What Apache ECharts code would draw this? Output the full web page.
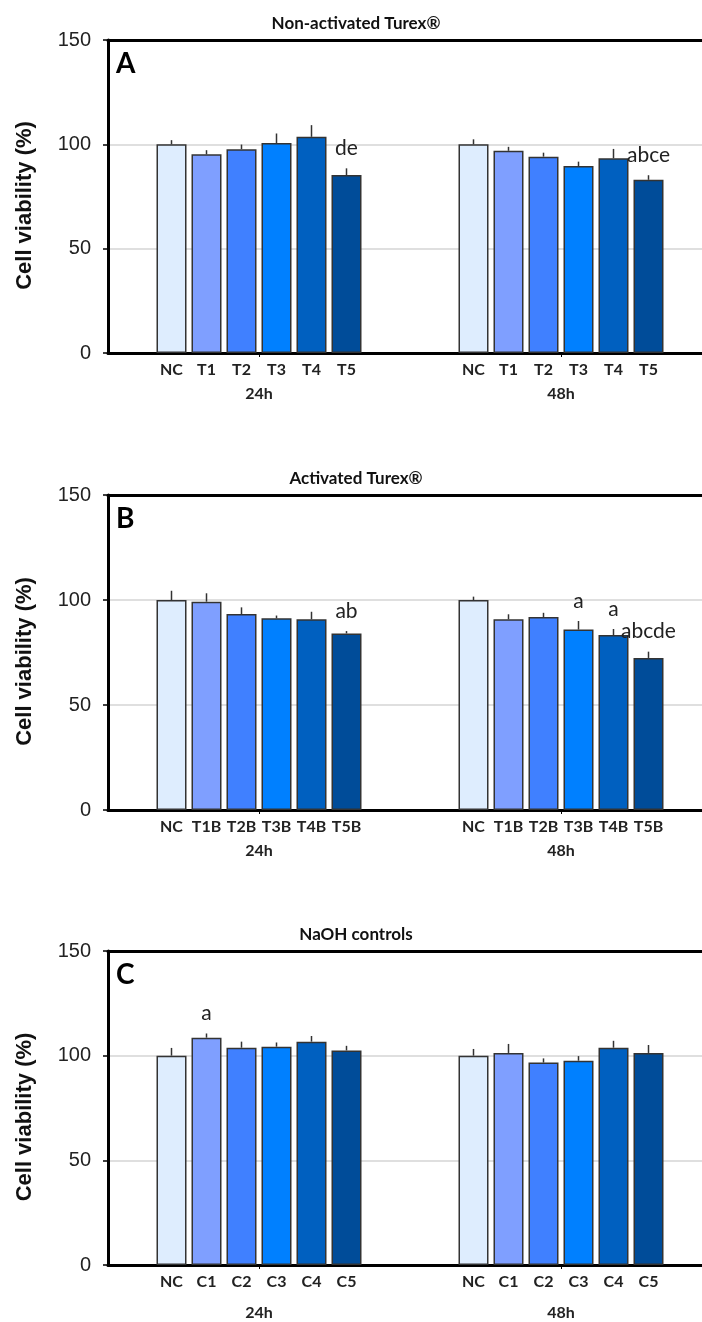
<!DOCTYPE html>
<html>
<head>
<meta charset="utf-8">
<title>Cell viability</title>
<script src="https://cdn.jsdelivr.net/npm/echarts@6/dist/echarts.min.js"></script>
<style>
  html, body { margin: 0; padding: 0; background: #fff; }
  #chart { width: 702px; height: 1322px; }
</style>
</head>
<body>
<div id="chart"></div>
<script>
// time points (x categories) and bar groups
var timePoints = ['24h', '48h'];
var groupsA = ['NC', 'T1', 'T2', 'T3', 'T4', 'T5'];
var groupsB = ['NC', 'T1B', 'T2B', 'T3B', 'T4B', 'T5B'];
var groupsC = ['NC', 'C1', 'C2', 'C3', 'C4', 'C5'];
var yTicks = [0, 50, 100, 150];

// A - non-activated Turex
var valA24 = [100, 95.2, 97.7, 100.6, 103.6, 85.3];
var errA24 = [2.0, 2.0, 2.2, 4.6, 5.6, 3.2];
var valA48 = [100, 96.9, 94.1, 89.6, 93.3, 83.0];
var errA48 = [2.4, 1.9, 1.9, 2.1, 4.5, 2.2];
var sigA24 = ['', '', '', '', '', 'de'];
var sigA48 = ['', '', '', '', '', 'abce'];

// B - activated Turex
var valB24 = [100, 99.2, 93.3, 91.3, 90.8, 84.1];
var errB24 = [4.4, 4.0, 3.2, 1.3, 3.6, 1.1];
var valB48 = [100, 90.8, 91.9, 85.9, 83.3, 72.4];
var errB48 = [1.6, 2.4, 2.0, 4.1, 2.9, 3.0];
var sigB24 = ['', '', '', '', '', 'ab'];
var sigB48 = ['', '', '', 'a', 'a', 'abcde'];

// C - NaOH controls
var valC24 = [100, 108.6, 103.8, 104.3, 106.7, 102.5];
var errC24 = [3.7, 2.0, 2.9, 2.0, 2.7, 2.2];
var valC48 = [100, 101.3, 96.7, 97.6, 103.8, 101.3];
var errC48 = [3.2, 4.3, 2.0, 2.2, 3.3, 3.8];
var sigC24 = ['', 'a', '', '', '', ''];
var sigC48 = ['', '', '', '', '', ''];

var barColors = ['#deedfe', '#7f9fff', '#4080ff', '#0080ff', '#0060c0', '#004c99'];

var panels = [
  { title: 'Non-activated Turex®', letter: 'A', top: 40, height: 313, timeGap: 33, groups: groupsA,
    vals: [valA24, valA48], errs: [errA24, errA48], sigs: [sigA24, sigA48] },
  { title: 'Activated Turex®', letter: 'B', top: 495, height: 315, timeGap: 33, groups: groupsB,
    vals: [valB24, valB48], errs: [errB24, errB48], sigs: [sigB24, sigB48] },
  { title: 'NaOH controls', letter: 'C', top: 951, height: 314, timeGap: 40, groups: groupsC,
    vals: [valC24, valC48], errs: [errC24, errC48], sigs: [sigC24, sigC48] }
];

var BAR_W = 30, BAR_GAP = 5;
var STEP = BAR_W + BAR_GAP;
var catFont = 'Lato';

var grids = [], xAxes = [], yAxes = [], series = [], graphics = [];

panels.forEach(function (p, k) {
  grids.push({ left: 108, width: 604, top: p.top, height: p.height,
               containLabel: false, outerBoundsMode: 'none' });

  // bottom category axis
  xAxes.push({
    gridIndex: k, type: 'category', data: timePoints, position: 'bottom',
    axisLine: { show: true, lineStyle: { color: '#000', width: 3 } },
    axisTick: { show: true, alignWithLabel: true, length: 4, lineStyle: { color: '#000', width: 1 } },
    axisLabel: { margin: p.timeGap, fontFamily: catFont, fontWeight: 'bold', fontSize: 16, color: '#222' },
    splitLine: { show: false }
  });
  // top frame line
  xAxes.push({
    gridIndex: k, type: 'category', data: timePoints, position: 'top',
    axisLine: { show: true, lineStyle: { color: '#000', width: 3 } },
    axisTick: { show: false }, axisLabel: { show: false }, splitLine: { show: false }
  });

  yAxes.push({
    gridIndex: k, type: 'value', min: yTicks[0], max: yTicks[yTicks.length - 1], interval: 50,
    axisLine: { show: true, lineStyle: { color: '#000', width: 3 } },
    axisTick: { show: true, length: 5, lineStyle: { color: '#000', width: 1.5 } },
    axisLabel: { margin: 17, fontFamily: 'Liberation Sans', fontSize: 20, color: '#222' },
    splitLine: { show: true, lineStyle: { color: '#d4d4d4', width: 1.5 } }
  });

  p.groups.forEach(function (g, s) {
    series.push({
      type: 'bar', name: g, xAxisIndex: k * 2, yAxisIndex: k,
      data: [p.vals[0][s], p.vals[1][s]],
      barWidth: BAR_W, barGap: (BAR_GAP / BAR_W * 100) + '%',
      itemStyle: { color: barColors[s], borderColor: '#333', borderWidth: 1.5 },
      label: {
        show: true, position: 'bottom', distance: 9, formatter: g,
        fontFamily: catFont, fontWeight: 'bold', fontSize: 16, color: '#222'
      },
      z: 2
    });
  });

  // error bars and significance letters
  var errData = [], errSig = [];
  for (var c = 0; c < 2; c++) {
    for (var s = 0; s < 6; s++) {
      errData.push([c, s, p.vals[c][s], p.errs[c][s]]);
      errSig.push(p.sigs[c][s]);
    }
  }
  series.push({
    type: 'custom', xAxisIndex: k * 2, yAxisIndex: k, z: 3,
    encode: { x: 0, y: 2 },
    data: errData,
    renderItem: function (params, api) {
      var c = api.value(0), s = api.value(1), v = api.value(2), e = api.value(3);
      var base = api.coord([c, v]);
      var hi = api.coord([c, v + e]);
      var x = base[0] + (s - 2.5) * STEP;
      var kids = [{
        type: 'line', shape: { x1: x, y1: base[1], x2: x, y2: hi[1] },
        style: { stroke: '#333', lineWidth: 1.5 }
      }];
      var t = errSig[params.dataIndex];
      if (t) {
        kids.push({
          type: 'text', x: x, y: hi[1] - 20,
          style: { text: t, textAlign: 'center', textVerticalAlign: 'middle',
                   font: '21px Lato', fill: '#222' }
        });
      }
      return { type: 'group', children: kids };
    }
  });

  graphics.push({
    type: 'text', x: 356, y: p.top - 16,
    style: { text: p.title, textAlign: 'center', textVerticalAlign: 'middle',
             font: 'bold 17px Lato', fill: '#111' }
  });
  graphics.push({
    type: 'text', x: 116, y: p.top + 24,
    style: { text: p.letter, textAlign: 'left', textVerticalAlign: 'middle',
             font: 'bold 28px Lato', fill: '#000' }
  });
  // y axis title
  graphics.push({
    type: 'text', x: 25, y: p.top + p.height / 2 + 9, rotation: Math.PI / 2,
    style: { text: 'Cell viability (%)', textAlign: 'center', textVerticalAlign: 'middle',
             font: 'bold 22px "Liberation Sans"', fill: '#111' }
  });
});

var chart = echarts.init(document.getElementById('chart'));
chart.setOption({
  animation: false,
  backgroundColor: '#fff',
  grid: grids,
  xAxis: xAxes,
  yAxis: yAxes,
  series: series,
  graphic: graphics
});
</script>
</body>
</html>
